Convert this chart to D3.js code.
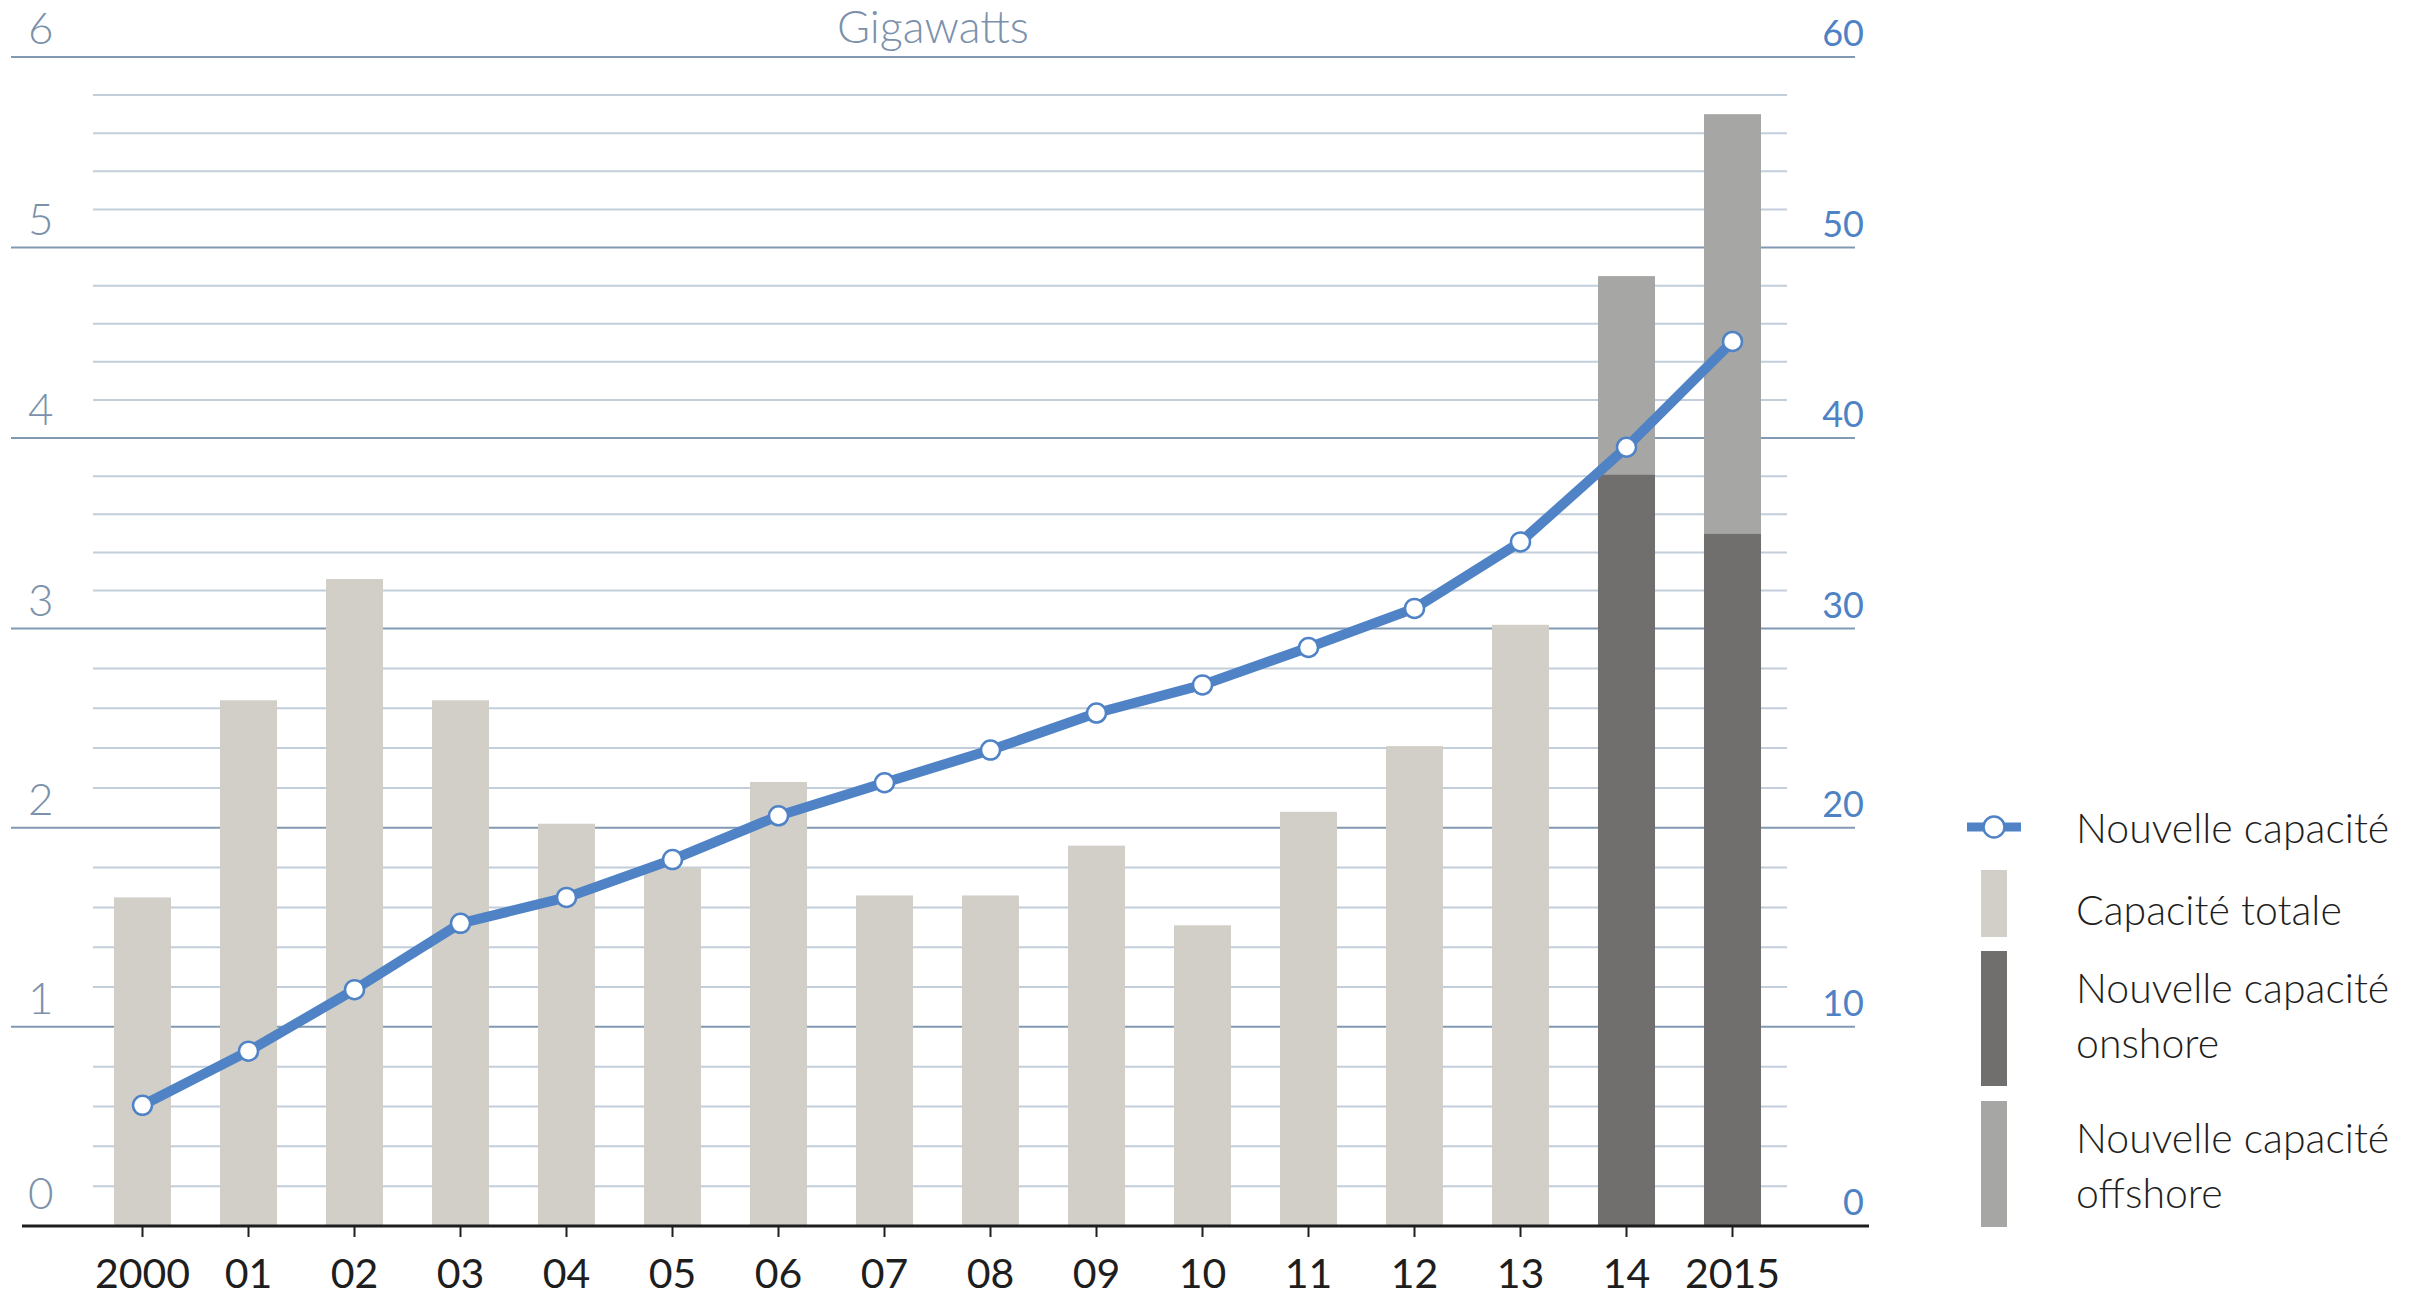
<!DOCTYPE html>
<html>
<head>
<meta charset="utf-8">
<script src="https://cdn.jsdelivr.net/npm/d3@7"></script>
<style>
  body { margin: 0; background: #fff; }
  svg { display: block; font-family: Lato, 'Open Sans', sans-serif; }
</style>
</head>
<body>
<svg id="chart" width="2426" height="1300"></svg>
<script>
// Values (GW)
var years = ['2000', '01', '02', '03', '04', '05', '06', '07', '08', '09', '10', '11', '12', '13', '14', '2015'];
var totalCapacity = [1.65, 2.64, 3.26, 2.64, 2.02, 1.80, 2.23, 1.66, 1.66, 1.91, 1.51, 2.08, 2.41, 3.02, null, null];
var onshore = [null, null, null, null, null, null, null, null, null, null, null, null, null, null, 3.81, 3.50];
var offshore = [null, null, null, null, null, null, null, null, null, null, null, null, null, null, 1.04, 2.20];
var newCapacity = [6.06, 8.78, 11.87, 15.2, 16.5, 18.4, 20.6, 22.26, 23.9, 25.76, 27.17, 29.05, 31.06, 34.55, 39.52, 45.07];
var leftTicks = [0, 1, 2, 3, 4, 5, 6];
var rightTicks = [0, 10, 20, 30, 40, 50, 60];
var unitLabel = 'Gigawatts';
var legendLabels = [['Nouvelle capacité'], ['Capacité totale'], ['Nouvelle capacité', 'onshore'], ['Nouvelle capacité', 'offshore']];

(function (d3) {
  'use strict';

  var colors = {
    total: '#d1cfc7',
    onshore: '#706f6d',
    offshore: '#a6a6a4',
    line: '#4f83c6',
    major: '#8299b4',
    minor: '#c3cedb',
    leftLabel: '#7b91ab',
    rightLabel: '#4e82c4',
    text: '#1e1e1e'
  };

  var svg = d3.select('#chart');

  // the printed axis is not quite uniform: lower half is a little stretched
  var yLeft = d3.scaleLinear().domain([0, 3, 6]).range([1226, 628.6, 57]);
  var yRight = d3.scaleLinear().domain([0, 30, 60]).range([1226, 628.6, 57]);
  var x = d3.scaleBand()
    .domain(years)
    .range([89.5, 1785.5])
    .paddingInner(0.462)
    .paddingOuter(0.231);
  var bw = x.bandwidth();

  // Grid
  var minorValues = d3.range(1, 30).filter(function(k) { return k % 5 !== 0; })
    .map(function(k) { return k / 5; });
  svg.append('g').selectAll('line')
    .data(minorValues)
    .enter().append('line')
      .attr('x1', 93).attr('x2', 1787)
      .attr('y1', function(d) { return yLeft(d); })
      .attr('y2', function(d) { return yLeft(d); })
      .style('stroke', colors.minor)
      .style('stroke-width', 2);

  svg.append('g').selectAll('line')
    .data(leftTicks.filter(function(d) { return d > 0; }))
    .enter().append('line')
      .attr('x1', 11).attr('x2', 1855)
      .attr('y1', function(d) { return yLeft(d); })
      .attr('y2', function(d) { return yLeft(d); })
      .style('stroke', colors.major)
      .style('stroke-width', 2);

  // Axis labels
  svg.append('g').selectAll('text')
    .data(leftTicks)
    .enter().append('text')
      .attr('x', 28)
      .attr('y', function(d) { return yLeft(d) - (d === 0 ? 17 : 13); })
      .style('font-size', '44px')
      .style('font-weight', 300)
      .style('fill', colors.leftLabel)
      .text(function(d) { return d; });

  svg.append('g').selectAll('text')
    .data(rightTicks)
    .enter().append('text')
      .attr('x', 1864)
      .attr('y', function(d) { return yRight(d) - 11; })
      .attr('text-anchor', 'end')
      .style('font-size', '36px')
      .style('fill', colors.rightLabel)
      .text(function(d) { return d; });

  svg.append('text')
    .attr('x', 933)
    .attr('y', 43)
    .attr('text-anchor', 'middle')
    .style('font-size', '45px')
    .style('font-weight', 300)
    .style('fill', colors.leftLabel)
    .text(unitLabel);

  // Bars
  var rows = years.map(function(y, i) {
    return { year: y, total: totalCapacity[i], on: onshore[i], off: offshore[i], cum: newCapacity[i] };
  });

  svg.append('g').selectAll('rect')
    .data(rows.filter(function(d) { return d.total != null; }))
    .enter().append('rect')
      .attr('x', function(d) { return x(d.year); })
      .attr('y', function(d) { return yLeft(d.total); })
      .attr('width', bw)
      .attr('height', function(d) { return yLeft(0) - yLeft(d.total); })
      .style('fill', colors.total);

  var split = rows.filter(function(d) { return d.on != null; });
  var stacked = d3.stack().keys(['on', 'off'])(split);
  svg.append('g').selectAll('g')
    .data(stacked)
    .enter().append('g')
      .style('fill', function(s) { return s.key === 'on' ? colors.onshore : colors.offshore; })
    .selectAll('rect')
    .data(function(s) { return s; })
    .enter().append('rect')
      .attr('x', function(d) { return x(d.data.year); })
      .attr('y', function(d) { return yLeft(d[1]); })
      .attr('width', bw)
      .attr('height', function(d) { return yLeft(d[0]) - yLeft(d[1]); });

  // Cumulative line, right axis
  var line = d3.line()
    .x(function(d) { return x(d.year) + bw / 2; })
    .y(function(d) { return yRight(d.cum); });

  svg.append('path')
    .datum(rows)
    .attr('d', line)
    .style('fill', 'none')
    .style('stroke', colors.line)
    .style('stroke-width', 10)
    .style('stroke-linejoin', 'round');

  svg.append('g').selectAll('circle')
    .data(rows)
    .enter().append('circle')
      .attr('cx', function(d) { return x(d.year) + bw / 2; })
      .attr('cy', function(d) { return yRight(d.cum); })
      .attr('r', 9.5)
      .style('fill', '#fff')
      .style('stroke', colors.line)
      .style('stroke-width', 2.5);

  // X axis
  svg.append('line')
    .attr('x1', 22).attr('x2', 1869)
    .attr('y1', yLeft(0)).attr('y2', yLeft(0))
    .style('stroke', colors.text)
    .style('stroke-width', 3);

  var gx = svg.append('g')
    .attr('transform', 'translate(0,' + yLeft(0) + ')')
    .call(d3.axisBottom(x).tickSize(11))
    .attr('font-size', null)
    .attr('font-family', null);
  gx.select('.domain').remove();
  gx.selectAll('.tick line')
    .attr('stroke', colors.text)
    .attr('stroke-width', 2);
  gx.selectAll('.tick text')
    .attr('y', 62)
    .attr('dy', null)
    .attr('fill', colors.text)
    .style('font-size', '41px');

  // Legend
  var legend = svg.append('g');
  legend.append('line')
    .attr('x1', 1967).attr('x2', 2021)
    .attr('y1', 827).attr('y2', 827)
    .style('stroke', colors.line)
    .style('stroke-width', 9);
  legend.append('circle')
    .attr('cx', 1994).attr('cy', 827).attr('r', 10.5)
    .style('fill', '#fff')
    .style('stroke', colors.line)
    .style('stroke-width', 2.5);

  var swatches = [
    { fill: colors.total, y0: 870, y1: 937 },
    { fill: colors.onshore, y0: 951, y1: 1086 },
    { fill: colors.offshore, y0: 1101, y1: 1227 }
  ];
  legend.selectAll('rect')
    .data(swatches)
    .enter().append('rect')
      .attr('x', 1981).attr('width', 26)
      .attr('y', function(d) { return d.y0; })
      .attr('height', function(d) { return d.y1 - d.y0; })
      .style('fill', function(d) { return d.fill; });

  var textBase = [843, 925, 1003, 1153];
  legend.selectAll('text')
    .data(legendLabels)
    .enter().append('text')
      .attr('x', 2076)
      .attr('y', function(d, i) { return textBase[i]; })
      .style('font-size', '41px')
      .style('font-weight', 300)
      .style('fill', colors.text)
    .selectAll('tspan')
    .data(function(d) { return d; })
    .enter().append('tspan')
      .attr('x', 2076)
      .attr('dy', function(d, i) { return i === 0 ? 0 : 55; })
      .text(function(d) { return d; });
}(d3));
</script>
</body>
</html>
